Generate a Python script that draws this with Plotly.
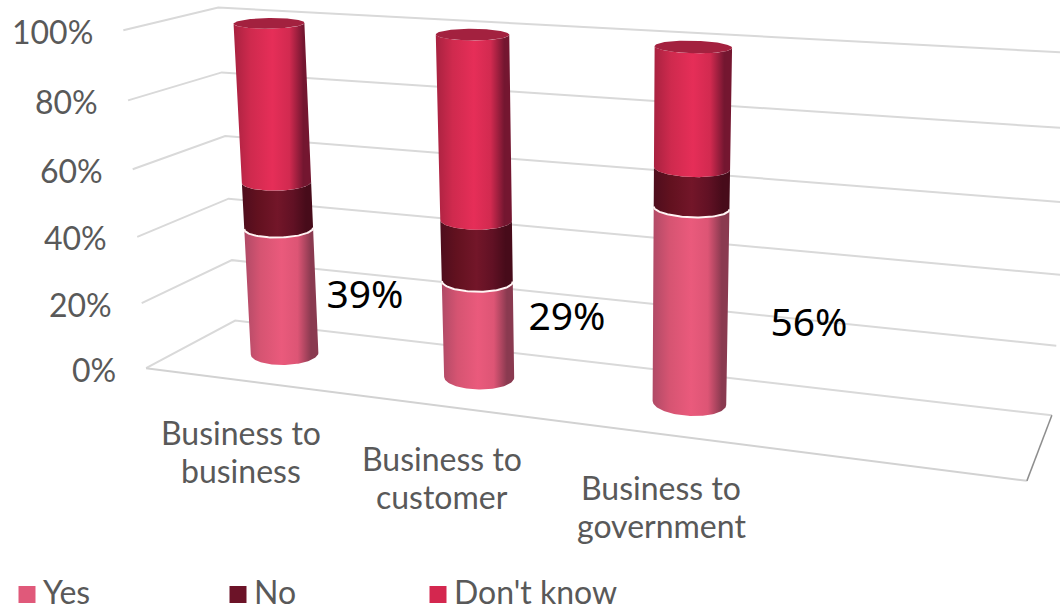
import numpy as np
import plotly.graph_objects as go

# Survey shares in percent, stacked from the floor upward
categories = ["Business to<br>business", "Business to<br>customer", "Business to<br>government"]
yes_values = [39, 29, 56]
no_values = [14, 18, 11]
dont_know_values = [47, 53, 33]
series_names = ["Yes", "No", "Don't know"]
tick_values = [0, 20, 40, 60, 80, 100]

WIDTH, HEIGHT = 1060, 610
FONT = "Lato"
GREY = "#595959"

# Camera calibration: box corner in (across, depth, share) -> screen position
calib_world = [
    (0, 0, 0), (0, 0, .2), (0, 0, .4), (0, 0, .6), (0, 0, .8), (0, 0, 1),
    (0, 1, 0), (0, 1, .2), (0, 1, .4), (0, 1, .6), (0, 1, .8), (0, 1, 1),
    (1, 1, 0), (1, 1, .2), (1, 1, 1), (1, 0, 0),
]
calib_screen = [
    (146, 368), (142, 303), (137, 237), (133, 169), (128, 100), (123, 31),
    (235, 321), (232, 260), (228, 199), (226, 136), (222, 72), (218, 7.5),
    (1052, 415), (1056, 346), (1075, 53), (1027, 481),
]


def solve_camera(world, screen):
    rows, rhs = [], []
    for (a, b, c), (u, v) in zip(world, screen):
        rows.append([a, b, c, 1, 0, 0, 0, 0, -u * a, -u * b, -u * c])
        rows.append([0, 0, 0, 0, a, b, c, 1, -v * a, -v * b, -v * c])
        rhs += [u, v]
    p, *_ = np.linalg.lstsq(np.array(rows, float), np.array(rhs, float), rcond=None)
    return np.append(p, 1).reshape(3, 4)


CAMERA = solve_camera(calib_world, calib_screen)


def project(a, b, c):
    a, b, c = np.broadcast_arrays(np.asarray(a, float), np.asarray(b, float), np.asarray(c, float))
    h = CAMERA @ np.stack([a, b, c, np.ones_like(a)])
    return h[0] / h[2], h[1] / h[2]


# Cylinder footprint inside the box; the cross terms keep each ring level on screen
SLOTS = 4
SLOT_SHIFT = -0.002
DEPTH_CENTER = 0.52
ACROSS_COS, ACROSS_SIN = 0.0365, -0.0199
DEPTH_COS, DEPTH_SIN = 0.0775, 0.192
theta = np.linspace(0, 2 * np.pi, 145)[:-1]


def ring(i, share):
    across = (i + 0.5) / SLOTS + SLOT_SHIFT + ACROSS_COS * np.cos(theta) + ACROSS_SIN * np.sin(theta)
    depth = DEPTH_CENTER + DEPTH_COS * np.cos(theta) + DEPTH_SIN * np.sin(theta)
    return project(across, depth, np.full_like(theta, share / 100))


def front_arc(i, share):
    x, y = ring(i, share)
    left, right = int(np.argmin(x)), int(np.argmax(x))
    idx = np.arange(len(x))
    first = np.roll(idx, -left)[: ((right - left) % len(x)) + 1]
    second = np.roll(idx, -right)[: ((left - right) % len(x)) + 1][::-1]
    arc = first if y[first].mean() > y[second].mean() else second
    return x[arc], y[arc]


def shade_scale(edge_left, mid, peak, mid2, edge_right):
    return [[0, edge_left], [0.22, mid], [0.5, peak], [0.72, mid2], [0.9, edge_right], [1, edge_right]]


series_scales = [
    shade_scale("#B04A66", "#D65472", "#EA5A7C", "#DD5575", "#8A3A50"),
    shade_scale("#4E0D1D", "#62111F", "#731629", "#611124", "#470B1A"),
    shade_scale("#A82240", "#CF2A4E", "#E62E58", "#D22A50", "#741630"),
]
swatch_colors = ["#E0597A", "#6C1328", "#D4274F"]
TOP_FACE = "#A3213F"

fig = go.Figure()

# Walls and floor of the box
grid_x, grid_y = [], []
for t in tick_values:
    px, py = project([0, 0, 1], [0, 1, 1], [t / 100] * 3)
    grid_x += list(px) + [None]
    grid_y += list(py) + [None]
fig.add_trace(go.Scatter(x=grid_x, y=grid_y, mode="lines",
                         line=dict(color="#D9D9D9", width=2), hoverinfo="skip"))
fx, fy = project([0, 1], [0, 0], [0, 0])
fig.add_trace(go.Scatter(x=fx, y=fy, mode="lines",
                         line=dict(color="#D2D2D2", width=2), hoverinfo="skip"))
ex, ey = project([1, 1], [1, 0], [0, 0])
fig.add_trace(go.Scatter(x=ex, y=ey, mode="lines",
                         line=dict(color="#8E8E8E", width=1.5), hoverinfo="skip"))

# Stacked cylinders
stack = [yes_values, no_values, dont_know_values]
for i in range(len(categories)):
    base = 0
    for s, vals in enumerate(stack):
        top = base + vals[i]
        lx, ly = front_arc(i, base)
        ux, uy = front_arc(i, top)
        fig.add_trace(go.Scatter(
            x=np.concatenate([lx, ux[::-1], lx[:1]]),
            y=np.concatenate([ly, uy[::-1], ly[:1]]),
            mode="lines", fill="toself", line=dict(width=0),
            fillgradient=dict(type="horizontal", colorscale=series_scales[s]),
            name=series_names[s], hoverinfo="name",
        ))
        base = top
    # Lid of the stack
    rx, ry = ring(i, base)
    fig.add_trace(go.Scatter(
        x=np.append(rx, rx[0]), y=np.append(ry, ry[0]), mode="lines", fill="toself",
        line=dict(width=0), fillcolor=TOP_FACE, hoverinfo="skip",
    ))
    # Bright seam on top of the lowest segment
    sx, sy = front_arc(i, yes_values[i])
    fig.add_trace(go.Scatter(x=sx, y=sy, mode="lines",
                             line=dict(color="#FFF4F4", width=2), hoverinfo="skip"))

# Share axis labels, right-aligned against the front wall edge
for t in tick_values:
    px, py = project(0, 0, t / 100)
    fig.add_annotation(x=float(px) - 28, y=float(py) + 1, text=f"{t}%", showarrow=False,
                       xanchor="right", yanchor="middle",
                       font=dict(family=FONT, size=32, color=GREY))

# Category labels below the floor, one annotation per line for tighter leading
cat_x = [241, 442, 661]
cat_y = [451.5, 477.5, 506.5]
LEADING = 38
for i, label in enumerate(categories):
    for n, line in enumerate(label.split("<br>")):
        fig.add_annotation(x=cat_x[i], y=cat_y[i] + (n - 0.5) * LEADING, text=line, showarrow=False,
                           xanchor="center", yanchor="middle", align="center",
                           font=dict(family=FONT, size=32, color=GREY))

# Value labels beside each cylinder
label_x = [365, 567, 809]
label_y = [298, 320, 326]
fig.add_trace(go.Scatter(x=label_x, y=label_y, mode="text",
                         text=[f"{v}%" for v in yes_values], textposition="middle center",
                         textfont=dict(family="Noto Sans", size=39, color="#000000"),
                         hoverinfo="skip"))

# Key along the bottom edge
key_x = [27, 238, 438]
key_y = 594.5
key_text_y = 596
for k, name in enumerate(series_names):
    fig.add_trace(go.Scatter(
        x=[key_x[k]], y=[key_y], mode="markers",
        marker=dict(symbol="square", size=17, color=swatch_colors[k]),
        name=name, hoverinfo="name",
    ))
    fig.add_trace(go.Scatter(
        x=[key_x[k] + 16], y=[key_text_y], mode="text", text=[name], textposition="middle right",
        textfont=dict(family=FONT, size=32, color=GREY), hoverinfo="skip",
    ))

fig.update_layout(
    width=WIDTH, height=HEIGHT, margin=dict(l=0, r=0, t=0, b=0),
    paper_bgcolor="#FFFFFF", plot_bgcolor="#FFFFFF", showlegend=False,
    xaxis=dict(range=[0, WIDTH], visible=False, fixedrange=True),
    yaxis=dict(range=[HEIGHT, 0], visible=False, fixedrange=True),
)
fig.write_html("out.html", config=dict(displayModeBar=False))
